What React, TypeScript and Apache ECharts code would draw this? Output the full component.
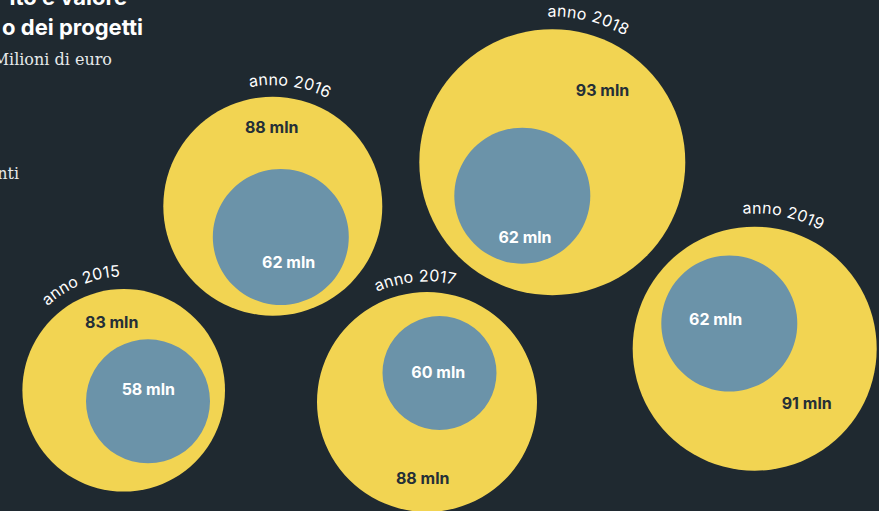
import React, { useEffect, useRef } from "react";
import * as echarts from "echarts";

// ---- data ----
const YEARS = ["2015", "2016", "2017", "2018", "2019"];
const TOTAL_VALUES = [83, 88, 88, 93, 91]; // yellow circles
const FUNDED_VALUES = [58, 62, 60, 62, 62]; // blue circles
const UNIT = "mln";
const YEAR_PREFIX = "anno";
const TITLE_LINES = ["ito e valore", "o dei progetti"];
const SUBTITLE = "Milioni di euro";
const NOTE = "nti";

// ---- layout (axis units = pixels) ----
const OUTER_CENTER = [
  [123.7, 390.3],
  [272.8, 206.2],
  [427, 402],
  [552.3, 162.2],
  [754.7, 348.7],
];
const OUTER_R = [101.3, 109.5, 110, 133, 122];
const INNER_CENTER = [
  [148, 401.3],
  [280.8, 237],
  [439.5, 373],
  [522.3, 195.7],
  [729.3, 323.5],
];
const INNER_R = [62, 68, 57, 68, 68];
const OUTER_LABEL_POS = [
  [111.7, 321.7],
  [271.7, 127.3],
  [422.7, 477.7],
  [602.5, 90],
  [806.7, 402.7],
];
const INNER_LABEL_POS = [
  [148.3, 389.3],
  [288.7, 262.3],
  [438.3, 371.7],
  [525, 236.7],
  [715.7, 319.3],
];
const ARC_CENTER_DEG = [-22, 8, -5.5, 14, 12];
const ARC_GAP = [18, 17.5, 16.5, 18.5, 19];
const ARC_SPACING = 0.7;

const W = 879;
const H = 511;
const BG = "#1f2930";
const YELLOW = "#f2d452";
const BLUE = "#6b93a9";
const DARK = "#252f37";
const WHITE = "#ffffff";
const ARC_FONT = "400 16px Inter";
const VALUE_FONT = "700 16px Inter";

let measureCtx: CanvasRenderingContext2D | null = null;
function measure(text: string, font: string): number {
  if (!measureCtx) measureCtx = document.createElement("canvas").getContext("2d");
  if (!measureCtx) return text.length * 8;
  measureCtx.font = font;
  return measureCtx.measureText(text).width;
}

function arcChars(text: string, cx: number, cy: number, radius: number, centerDeg: number, font: string, fill: string) {
  const chars = Array.from(text);
  const total = measure(text, font) + ARC_SPACING * (chars.length - 1);
  const start = (centerDeg * Math.PI) / 180 - total / 2 / radius;
  return chars.map((ch, i) => {
    const before = measure(chars.slice(0, i).join(""), font) + ARC_SPACING * i;
    const w = measure(ch, font);
    const theta = start + (before + w / 2) / radius;
    return {
      type: "text",
      x: cx + radius * Math.sin(theta),
      y: cy - radius * Math.cos(theta),
      rotation: -theta,
      silent: true,
      style: { text: ch, x: 0, y: 0, fill, font, align: "center", verticalAlign: "middle" },
    };
  });
}

export default function App() {
  const ref = useRef<HTMLDivElement>(null);

  useEffect(() => {
    document.body.style.margin = "0";
    document.body.style.background = BG;
    if (!ref.current) return;
    const chart = echarts.init(ref.current, null, { renderer: "svg" });

    const data = YEARS.map((y, i) => [OUTER_CENTER[i][0], OUTER_CENTER[i][1], TOTAL_VALUES[i], FUNDED_VALUES[i]]);

    const option: any = {
      animation: false,
      backgroundColor: BG,
      grid: { left: 0, top: 0, right: 0, bottom: 0 },
      xAxis: { type: "value", min: 0, max: W, show: false },
      yAxis: { type: "value", min: 0, max: H, inverse: true, show: false },
      graphic: [
        {
          type: "text",
          x: 127,
          y: 8,
          silent: true,
          style: { text: TITLE_LINES[0], fill: WHITE, font: "700 22px Inter", align: "right", verticalAlign: "bottom" },
        },
        {
          type: "text",
          x: 143,
          y: 38,
          silent: true,
          style: { text: TITLE_LINES[1], fill: WHITE, font: "700 22px Inter", align: "right", verticalAlign: "bottom" },
        },
        {
          type: "text",
          x: 112,
          y: 67,
          silent: true,
          style: { text: SUBTITLE, fill: "#e6e9eb", font: "400 16px 'DejaVu Serif'", align: "right", verticalAlign: "bottom" },
        },
        {
          type: "text",
          x: 19,
          y: 181,
          silent: true,
          style: { text: NOTE, fill: "#e6e9eb", font: "400 16px 'DejaVu Serif'", align: "right", verticalAlign: "bottom" },
        },
      ],
      series: [
        {
          type: "custom",
          silent: true,
          data,
          renderItem: (params: any, api: any) => {
            const i = params.dataIndex;
            const oc = api.coord([api.value(0), api.value(1)]);
            const or = api.size([OUTER_R[i], 0])[0];
            const ic = api.coord(INNER_CENTER[i]);
            const ir = api.size([INNER_R[i], 0])[0];
            const ol = api.coord(OUTER_LABEL_POS[i]);
            const il = api.coord(INNER_LABEL_POS[i]);
            const children: any[] = [
              { type: "circle", shape: { cx: oc[0], cy: oc[1], r: or }, style: { fill: YELLOW } },
              { type: "circle", shape: { cx: ic[0], cy: ic[1], r: ir }, style: { fill: BLUE } },
              {
                type: "text",
                style: {
                  text: `${api.value(2)} ${UNIT}`,
                  x: ol[0],
                  y: ol[1],
                  fill: DARK,
                  font: VALUE_FONT,
                  align: "center",
                  verticalAlign: "middle",
                },
              },
              {
                type: "text",
                style: {
                  text: `${api.value(3)} ${UNIT}`,
                  x: il[0],
                  y: il[1],
                  fill: WHITE,
                  font: VALUE_FONT,
                  align: "center",
                  verticalAlign: "middle",
                },
              },
              ...arcChars(`${YEAR_PREFIX} ${YEARS[i]}`, oc[0], oc[1], or + ARC_GAP[i], ARC_CENTER_DEG[i], ARC_FONT, WHITE),
            ];
            return { type: "group", children };
          },
        },
      ],
    };

    chart.setOption(option);
    return () => chart.dispose();
  }, []);

  return <div ref={ref} style={{ position: "fixed", left: 0, top: 0, width: W, height: H, background: BG }} />;
}
